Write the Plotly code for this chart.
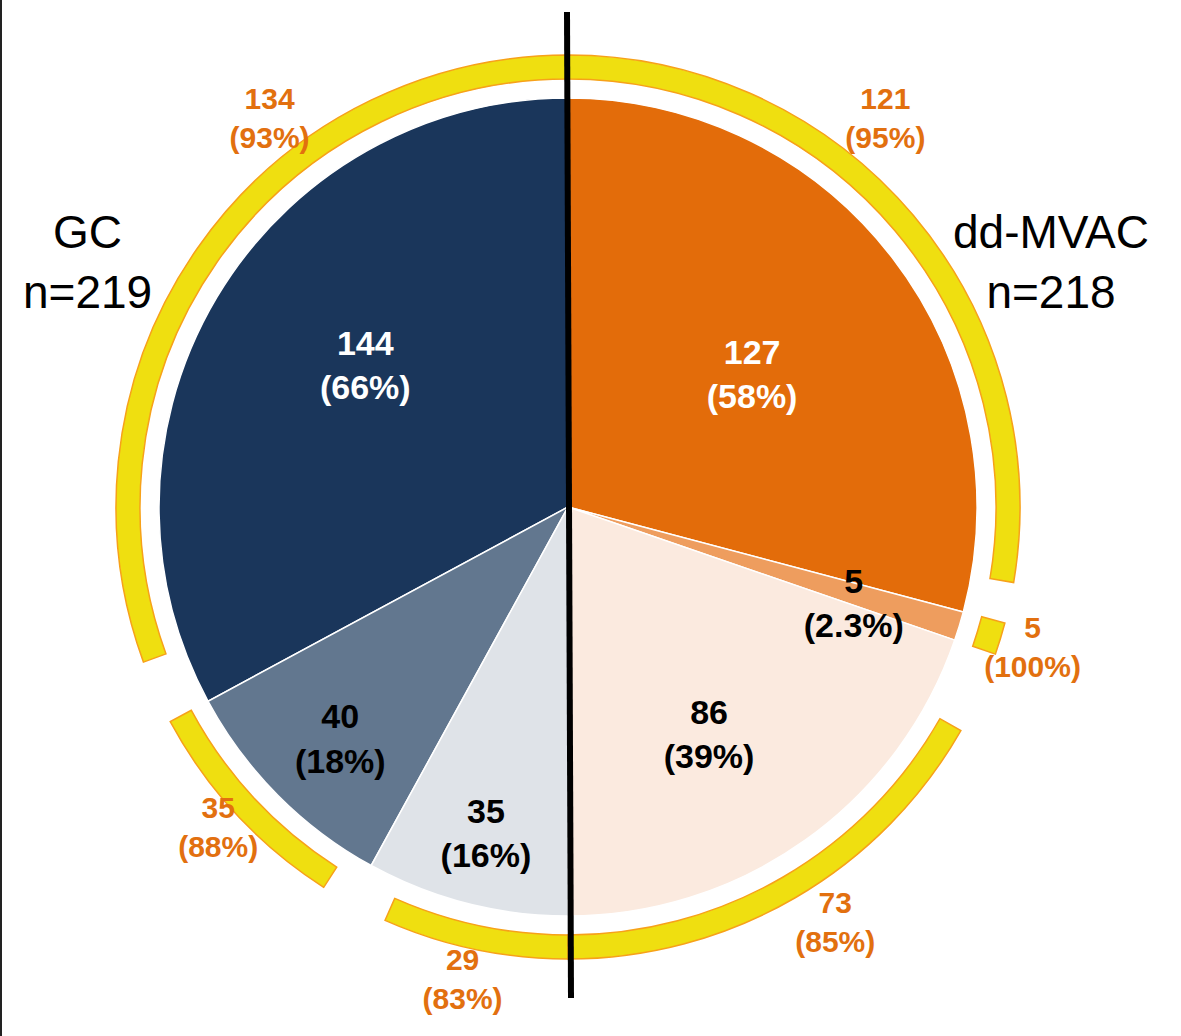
import plotly.graph_objects as go

# ---------------- data ----------------
gc_name = "GC"
gc_n = 219
gc_counts = [144, 40, 35]
gc_pct = ["66%", "18%", "16%"]
gc_sub_counts = [134, 35, 29]
gc_sub_pct = [93, 88, 83]

mvac_name = "dd-MVAC"
mvac_n = 218
mvac_counts = [127, 5, 86]
mvac_pct = ["58%", "2.3%", "39%"]
mvac_sub_counts = [121, 5, 73]
mvac_sub_pct = [95, 100, 85]

# ---------------- style ----------------
W, H = 1181, 1036
CX, CY = 568, 507          # pie centre in pixels (from top-left)
RP = 505                   # polar radius in pixels (1 radial unit = 1 px)
R_PIE = 409
RING_IN, RING_W = 428, 24

FONT = "Liberation Sans, Arial, sans-serif"
ORANGE_TXT = "#E2700F"
YELLOW = "#EFDF10"
YELLOW_EDGE = "#F7A11A"

gc_colors = ["#1A365B", "#62778F", "#DFE3E8"]
mvac_colors = ["#E36C0A", "#EE9D5E", "#FBEADF"]
gc_text_colors = ["white", "black", "black"]
mvac_text_colors = ["white", "black", "black"]
gc_arc_align = ["end", "end", "start"]
mvac_arc_align = ["start", "start", "end"]

# inner label placement (fraction of radius, angle offset from slice middle)
gc_lab_rf = [0.60, 0.80, 0.83]
gc_lab_dth = [3.5, -1.1, -0.4]
mvac_lab_rf = [0.55, 0.74, 0.66]
mvac_lab_dth = [2.5, 2.3, 4.0]

# outer label placement (angle, radius)
gc_out_th = [322.3, 227.3, 192.5]
gc_out_r = [488, 476, 487]
mvac_out_th = [39.4, 107.1, 147.4]
mvac_out_r = [500, 486, 496]


def layout_half(counts, n, anchor, direction):
    out = []
    a = anchor
    for c in counts:
        s = c / n * 180.0
        if direction > 0:
            lo, hi = a, a + s
            a = hi
        else:
            lo, hi = a - s, a
            a = lo
        out.append((lo, hi))
    return out


mv_sl = layout_half(mvac_counts, mvac_n, 0, +1)
gc_sl = layout_half(gc_counts, gc_n, 360, -1)

fig = go.Figure()

# pie wedges
for sl, cols in ((mv_sl, mvac_colors), (gc_sl, gc_colors)):
    fig.add_trace(go.Barpolar(
        r=[R_PIE] * len(sl), base=[0] * len(sl),
        theta=[(lo + hi) / 2 for lo, hi in sl],
        width=[hi - lo for lo, hi in sl],
        marker=dict(color=cols, line=dict(color="white", width=1.5)),
        hoverinfo="skip", showlegend=False,
    ))


def arcs(sl, pcts, align):
    th, wd = [], []
    for (lo, hi), p, al in zip(sl, pcts, align):
        span = (hi - lo) * p / 100.0
        if al == "start":
            a0, a1 = lo, lo + span
        else:
            a0, a1 = hi - span, hi
        th.append((a0 + a1) / 2)
        wd.append(a1 - a0)
    return th, wd


for sl, pcts, al in ((mv_sl, mvac_sub_pct, mvac_arc_align), (gc_sl, gc_sub_pct, gc_arc_align)):
    th, wd = arcs(sl, pcts, al)
    fig.add_trace(go.Barpolar(
        r=[RING_W] * len(th), base=[RING_IN] * len(th), theta=th, width=wd,
        marker=dict(color=YELLOW, line=dict(color=YELLOW_EDGE, width=1.5)),
        hoverinfo="skip", showlegend=False,
    ))

# inner labels
for sl, counts, pct, rf, dth, tcol in (
    (mv_sl, mvac_counts, mvac_pct, mvac_lab_rf, mvac_lab_dth, mvac_text_colors),
    (gc_sl, gc_counts, gc_pct, gc_lab_rf, gc_lab_dth, gc_text_colors),
):
    fig.add_trace(go.Scatterpolar(
        r=[f * R_PIE for f in rf],
        theta=[(lo + hi) / 2 + d for (lo, hi), d in zip(sl, dth)],
        mode="text",
        text=[f"<b>{c}</b><br><b>({p})</b>" for c, p in zip(counts, pct)],
        textfont=dict(family=FONT, size=34, color=tcol),
        textposition="middle center",
        hoverinfo="skip", showlegend=False, cliponaxis=False,
    ))

# outer labels
for counts, pcts, th, rr in (
    (mvac_sub_counts, mvac_sub_pct, mvac_out_th, mvac_out_r),
    (gc_sub_counts, gc_sub_pct, gc_out_th, gc_out_r),
):
    fig.add_trace(go.Scatterpolar(
        r=rr, theta=th, mode="text",
        text=[f"<b>{c}</b><br><b>({p}%)</b>" for c, p in zip(counts, pcts)],
        textfont=dict(family=FONT, size=30, color=ORANGE_TXT),
        textposition="middle center",
        hoverinfo="skip", showlegend=False, cliponaxis=False,
    ))

cy_b = H - CY
fig.update_layout(
    width=W, height=H,
    margin=dict(l=0, r=0, t=0, b=0),
    paper_bgcolor="white",
    polar=dict(
        domain=dict(x=[(CX - RP) / W, (CX + RP) / W], y=[(cy_b - RP) / H, (cy_b + RP) / H]),
        bgcolor="white", bargap=0, hole=0,
        radialaxis=dict(range=[0, RP], visible=False, showgrid=False),
        angularaxis=dict(rotation=90, direction="clockwise", visible=False, showgrid=False),
    ),
    annotations=[
        dict(text=f"{gc_name}<br>n={gc_n}", x=87 / W, y=1 - 262 / H, xref="paper", yref="paper",
             showarrow=False, font=dict(family=FONT, size=46, color="black"),
             xanchor="center", yanchor="middle"),
        dict(text=f"{mvac_name}<br>n={mvac_n}", x=1051 / W, y=1 - 262 / H, xref="paper", yref="paper",
             showarrow=False, font=dict(family=FONT, size=46, color="black"),
             xanchor="center", yanchor="middle"),
    ],
    shapes=[
        dict(type="line", xref="paper", yref="paper", x0=567 / W, y0=1 - 12 / H,
             x1=571 / W, y1=1 - 998 / H, line=dict(color="black", width=6)),
        dict(type="line", xref="paper", yref="paper", x0=1 / W, y0=0, x1=1 / W, y1=1,
             line=dict(color="#222222", width=2)),
    ],
)

fig.write_html("out.html", config={"displayModeBar": False},
               post_script="document.body.style.margin='0px';")
